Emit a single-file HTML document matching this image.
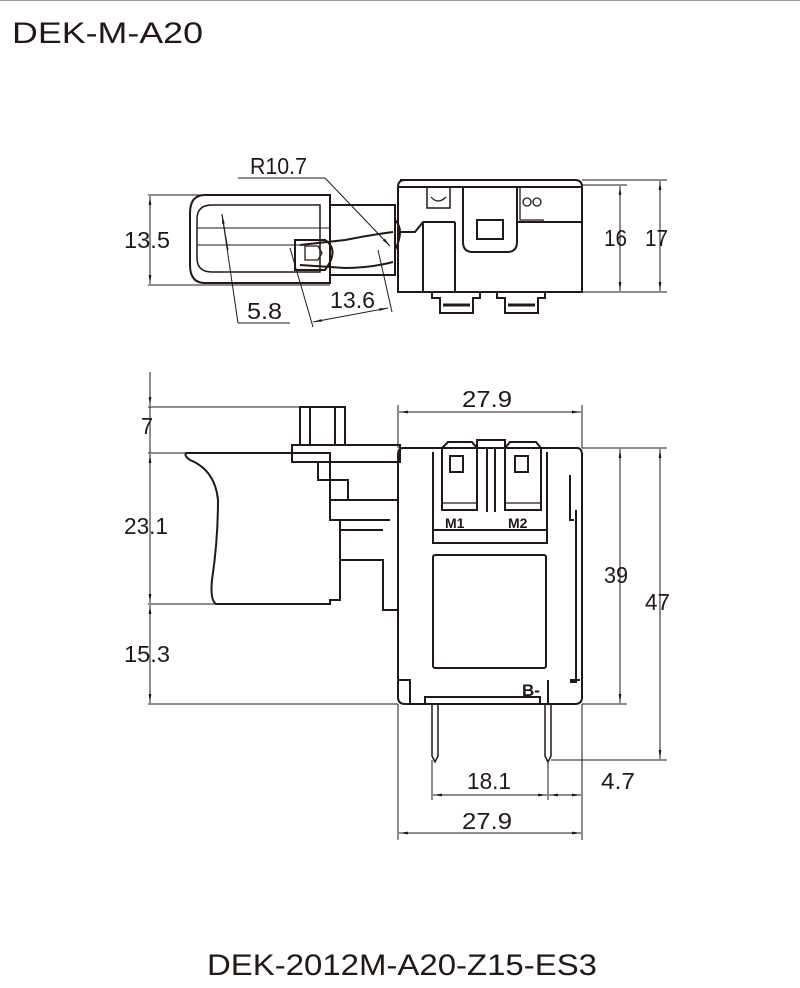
<!DOCTYPE html>
<html><head><meta charset="utf-8"><style>
html,body{margin:0;padding:0;background:#fff}
svg{display:block}
text{font-family:"Liberation Sans",sans-serif;fill:#231815}
</style></head><body>
<svg width="800" height="988" viewBox="0 0 800 988" xmlns="http://www.w3.org/2000/svg">
<defs>
<marker id="a" viewBox="0 0 10 10" refX="10" refY="5" markerWidth="9" markerHeight="9" orient="auto-start-reverse" markerUnits="userSpaceOnUse"><path d="M0,3.5 L10,5 L0,6.5z" fill="#231815"/></marker>
</defs>
<line x1="0" y1="0.5" x2="800" y2="0.5" stroke="#999" stroke-width="1"/>
<text x="12" y="43" font-size="30" textLength="191" lengthAdjust="spacingAndGlyphs">DEK-M-A20</text>
<text x="207" y="975" font-size="30" textLength="390" lengthAdjust="spacingAndGlyphs">DEK-2012M-A20-Z15-ES3</text>

<g fill="none" stroke="#231815" stroke-width="2">
<!-- TOP VIEW -->
<path d="M205,195 H330 V283 H205 Q190,283 190,265 V213 Q190,195 205,195Z"/>
<path d="M212,205 H320 V272 H212 Q197,272 197,258 V219 Q197,205 212,205Z" stroke-width="1.5"/>
<path d="M197,245 H300 M197,228 H330" stroke-width="1"/>
<path d="M330,205 H395 V275 H330" />
<path d="M300,245 L345,240 Q370,235 393,232 M300,265 L345,268 Q370,268 393,262"/>
<path d="M295,240 H325 Q340,250 325,270 H295Z"/>
<path d="M305,246 H318 L322,253 L318,260 H305Z" stroke-width="1.3"/>
<path d="M395,220 Q405,230 395,250" />
<path d="M400,180 H575 Q582,180 582,187 V292 H398 V187 Q398,180 405,180Z"/>
<line x1="398" y1="187" x2="582" y2="187"/>
<path d="M398,232 H415 L423,222 H455 M465,222 M517,222 H582"/>
<path d="M423,222 V292 M455,222 V292"/>
<path d="M463,187 V242 Q463,252 473,252 H507 Q517,252 517,242 V187"/>
<rect x="477" y="220" width="26" height="19"/>
<rect x="427" y="187" width="23" height="21" stroke-width="1.5"/>
<path d="M431,197 Q438,205 446,197" stroke-width="1.3"/>
<circle cx="527" cy="202" r="4" stroke-width="1.3"/><circle cx="537" cy="202" r="4" stroke-width="1.3"/>
<path d="M520,187 V220 H543 V222" stroke-width="1.3"/>
<path d="M432,292 V298 H440 V313 H473 V298 H480 V292 M497,292 V298 H505 V313 H538 V298 H545 V292"/>
<path d="M443,305 H470 M508,305 H535" stroke-width="3"/>
<g stroke-width="1">
<line x1="148" y1="195" x2="205" y2="195"/><line x1="148" y1="285" x2="330" y2="285"/>
<line x1="150" y1="196" x2="150" y2="284" marker-start="url(#a)" marker-end="url(#a)"/>
<line x1="582" y1="185" x2="627" y2="185"/><line x1="582" y1="292" x2="667" y2="292"/>
<line x1="582" y1="180" x2="667" y2="180"/>
<line x1="620" y1="186" x2="620" y2="291" marker-start="url(#a)" marker-end="url(#a)"/>
<line x1="660" y1="181" x2="660" y2="291" marker-start="url(#a)" marker-end="url(#a)"/>
<line x1="238" y1="178" x2="325" y2="178"/><line x1="325" y1="178" x2="390" y2="246" marker-end="url(#a)"/>
<line x1="222" y1="214" x2="238" y2="323"/><line x1="238" y1="323" x2="290" y2="323"/>
<line x1="228" y1="250" x2="222" y2="215" marker-end="url(#a)"/>
<line x1="290" y1="248" x2="313" y2="327"/><line x1="378" y1="250" x2="392" y2="312"/>
<line x1="313" y1="322" x2="388" y2="308" marker-start="url(#a)" marker-end="url(#a)"/>
</g>

<!-- FRONT VIEW -->
<path d="M186,453 H330 V520 L340,520 V600 H330 V604 H216 Q210,600 212,580 Q218,540 218,500 Q215,470 190,460 Q184,456 186,453Z"/>
<path d="M300,445 V407 H345 V445 M310,407 V445 M335,407 V445"/>
<path d="M292,445 H400 V462 H292Z M318,462 H398 V490 M318,462 V480 H348 V500 H398 M330,500 H398 V520 M330,520 H390"/>
<path d="M340,520 V600 M340,560 H383 V610 H398 M340,530 H383"/>
<path d="M403,448 H577 Q582,448 582,455 V697 Q582,704 575,704 H405 Q398,704 398,697 V455 Q398,448 403,448Z"/>
<path d="M433,452 V543 H547 V452 M433,530 H547"/>
<path d="M442,510 V448 L448,442 H472 L477,448 V510Z M505,510 V448 L510,442 H536 L541,448 V510Z"/>
<path d="M477,448 V440 H505 V448 M487,448 V512 M495,448 V512"/>
<rect x="450" y="456" width="13" height="16"/><rect x="515" y="456" width="13" height="16"/>
<path d="M442,503 H477 M505,503 H541" stroke-width="1.3"/>
<rect x="433" y="555" width="113" height="113" rx="2"/>
<path d="M398,680 H410 V704 M570,680 H580 M548,680 V704 M425,704 V697 H540 V704"/>
<path d="M570,475 V520 H574 M576,510 V682 H570"/>
<path d="M432,704 V756 L435,762 L438,756 V704 M545,704 V756 L548,762 L551,756 V704" stroke-width="1.5"/>
<g stroke-width="1">
<line x1="148" y1="407" x2="300" y2="407"/><line x1="148" y1="453" x2="186" y2="453"/>
<line x1="148" y1="604" x2="216" y2="604"/><line x1="148" y1="704" x2="398" y2="704"/>
<line x1="150" y1="372" x2="150" y2="406" marker-end="url(#a)"/>
<line x1="150" y1="454" x2="150" y2="603" marker-start="url(#a)" marker-end="url(#a)"/>
<line x1="150" y1="605" x2="150" y2="703" marker-start="url(#a)" marker-end="url(#a)"/>
<line x1="150" y1="407" x2="150" y2="453"/>
<line x1="398" y1="405" x2="398" y2="448"/><line x1="582" y1="405" x2="582" y2="448"/>
<line x1="399" y1="412" x2="581" y2="412" marker-start="url(#a)" marker-end="url(#a)"/>
<line x1="582" y1="448" x2="667" y2="448"/><line x1="582" y1="704" x2="627" y2="704"/>
<line x1="551" y1="760" x2="667" y2="760"/>
<line x1="620" y1="449" x2="620" y2="703" marker-start="url(#a)" marker-end="url(#a)"/>
<line x1="660" y1="449" x2="660" y2="759" marker-start="url(#a)" marker-end="url(#a)"/>
<line x1="398" y1="704" x2="398" y2="840"/><line x1="582" y1="704" x2="582" y2="840"/>
<line x1="432" y1="760" x2="432" y2="800"/><line x1="548" y1="760" x2="548" y2="800"/>
<line x1="433" y1="795" x2="547" y2="795" marker-start="url(#a)" marker-end="url(#a)"/>
<line x1="549" y1="795" x2="581" y2="795" marker-start="url(#a)" marker-end="url(#a)"/>
<line x1="399" y1="833" x2="581" y2="833" marker-start="url(#a)" marker-end="url(#a)"/>
</g>
</g>
<g font-size="23" lengthAdjust="spacingAndGlyphs">
<text x="250" y="174" textLength="57" lengthAdjust="spacingAndGlyphs">R10.7</text>
<text x="124" y="248" textLength="46" lengthAdjust="spacingAndGlyphs">13.5</text>
<text x="247" y="319" textLength="35" lengthAdjust="spacingAndGlyphs">5.8</text>
<text x="330" y="308" textLength="45" lengthAdjust="spacingAndGlyphs">13.6</text>
<text x="604" y="246" textLength="23" lengthAdjust="spacingAndGlyphs">16</text>
<text x="645" y="246" textLength="23" lengthAdjust="spacingAndGlyphs">17</text>
<text x="462" y="407" textLength="50" lengthAdjust="spacingAndGlyphs">27.9</text>
<text x="141" y="434" textLength="12" lengthAdjust="spacingAndGlyphs">7</text>
<text x="124" y="534" textLength="44" lengthAdjust="spacingAndGlyphs">23.1</text>
<text x="124" y="662" textLength="46" lengthAdjust="spacingAndGlyphs">15.3</text>
<text x="604" y="583" textLength="24" lengthAdjust="spacingAndGlyphs">39</text>
<text x="645" y="610" textLength="25" lengthAdjust="spacingAndGlyphs">47</text>
<text x="467" y="789" textLength="44" lengthAdjust="spacingAndGlyphs">18.1</text>
<text x="601" y="789" textLength="34" lengthAdjust="spacingAndGlyphs">4.7</text>
<text x="462" y="829" textLength="50" lengthAdjust="spacingAndGlyphs">27.9</text>
</g>
<g font-size="14" font-weight="bold">
<text x="445" y="528">M1</text><text x="508" y="528">M2</text>
<text x="522" y="696" font-size="17">B-</text>
</g>
</svg>
</body></html>
